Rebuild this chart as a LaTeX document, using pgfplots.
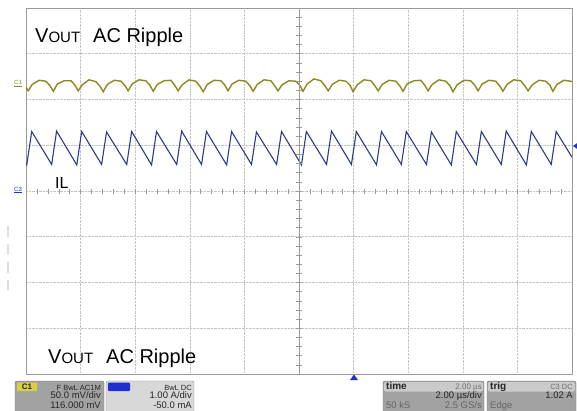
\documentclass[border=0pt]{standalone}
\usepackage{pgfplots}
\pgfplotsset{compat=1.18}
\usepackage{fontspec}
\setmainfont{Liberation Sans}

\definecolor{scopegrid}{HTML}{C4C4C4}
\definecolor{scopeframe}{HTML}{9A9A9A}
\definecolor{vout}{HTML}{8C8A1E}
\definecolor{ilblue}{HTML}{2E3A8C}
\definecolor{markblue}{HTML}{1F2FD0}
\definecolor{boxdark}{HTML}{A2A2A2}
\definecolor{boxlight}{HTML}{D8D8D8}
\definecolor{boxhead}{HTML}{CACACA}
\definecolor{c1yellow}{HTML}{D8D040}

\begin{document}
\begin{tikzpicture}
\useasboundingbox (0pt,0pt) rectangle (577pt,410pt);
\fill[white] (0pt,0pt) rectangle (577pt,410pt);

\begin{axis}[
    at={(26pt,36pt)}, anchor=south west,
    scale only axis, width=546pt, height=366pt,
    xmin=-10, xmax=10, ymin=-4, ymax=4,
    xtick={-8,-6,...,8}, ytick={-3,...,3},
    xticklabels={}, yticklabels={},
    major tick length=0pt,
    grid=major,
    grid style={densely dotted, scopegrid, line width=0.6pt},
    axis line style={scopeframe, line width=0.8pt},
]

% C1: Vout AC ripple (divisions)
\addplot[vout, line width=1.4pt] coordinates {
(-10.00,2.27)
(-9.92,2.19) (-9.77,2.33) (-9.52,2.42) (-9.27,2.40) (-9.12,2.30)
(-9.00,2.18) (-8.85,2.34) (-8.60,2.41) (-8.35,2.41) (-8.20,2.31)
(-8.09,2.19) (-7.94,2.32) (-7.69,2.43) (-7.44,2.39) (-7.29,2.29)
(-7.17,2.17) (-7.02,2.33) (-6.77,2.42) (-6.52,2.40) (-6.37,2.30)
(-6.26,2.19) (-6.11,2.34) (-5.86,2.43) (-5.61,2.41) (-5.46,2.31)
(-5.34,2.18) (-5.19,2.33) (-4.94,2.41) (-4.69,2.42) (-4.54,2.30)
(-4.43,2.19) (-4.28,2.32) (-4.03,2.43) (-3.78,2.40) (-3.63,2.29)
(-3.51,2.17) (-3.36,2.33) (-3.11,2.42) (-2.86,2.41) (-2.71,2.31)
(-2.60,2.19) (-2.45,2.34) (-2.20,2.42) (-1.95,2.40) (-1.80,2.30)
(-1.68,2.18) (-1.53,2.33) (-1.28,2.43) (-1.03,2.41) (-0.88,2.29)
(-0.77,2.19) (-0.62,2.32) (-0.37,2.41) (-0.12,2.40) (0.03,2.31)
(0.15,2.18) (0.30,2.34) (0.55,2.45) (0.80,2.41) (0.95,2.30)
(1.07,2.19) (1.22,2.33) (1.47,2.42) (1.72,2.40) (1.87,2.31)
(1.98,2.17) (2.13,2.32) (2.38,2.43) (2.63,2.41) (2.78,2.30)
(2.90,2.19) (3.05,2.33) (3.30,2.42) (3.55,2.40) (3.70,2.29)
(3.81,2.18) (3.96,2.34) (4.21,2.41) (4.46,2.42) (4.61,2.31)
(4.73,2.19) (4.88,2.33) (5.13,2.43) (5.38,2.40) (5.53,2.30)
(5.64,2.17) (5.79,2.32) (6.04,2.42) (6.29,2.41) (6.44,2.31)
(6.56,2.19) (6.71,2.34) (6.96,2.42) (7.21,2.40) (7.36,2.29)
(7.47,2.18) (7.62,2.33) (7.87,2.43) (8.12,2.41) (8.27,2.30)
(8.39,2.19) (8.54,2.32) (8.79,2.42) (9.04,2.40) (9.19,2.31)
(9.30,2.18) (9.45,2.33) (9.70,2.42) (9.95,2.40) (10.00,2.39)
};

% C3: inductor current IL (divisions)
\addplot[ilblue, line width=1.1pt] coordinates {
(-10.00,0.62) (-9.97,0.58) (-9.79,1.30) (-9.06,0.58) (-8.88,1.31)
(-8.14,0.57) (-7.96,1.30) (-7.23,0.58) (-7.05,1.29) (-6.31,0.58)
(-6.13,1.30) (-5.40,0.57) (-5.22,1.30) (-4.48,0.58) (-4.30,1.31)
(-3.57,0.58) (-3.39,1.30) (-2.65,0.57) (-2.47,1.30) (-1.74,0.58)
(-1.56,1.29) (-0.82,0.58) (-0.64,1.30) (0.09,0.57) (0.27,1.30)
(1.01,0.58) (1.19,1.31) (1.92,0.58) (2.10,1.30) (2.84,0.57)
(3.02,1.30) (3.75,0.58) (3.93,1.30) (4.67,0.58) (4.85,1.29)
(5.58,0.57) (5.76,1.30) (6.50,0.58) (6.68,1.30) (7.41,0.58)
(7.59,1.31) (8.33,0.57) (8.51,1.30) (9.24,0.58) (9.42,1.30)
(10.00,0.74)
};
\end{axis}

\begin{scope}[x=1pt,y=1pt]
% centre cross with small ticks
\draw[scopeframe, line width=0.6pt] (299,36) -- (299,402);
\foreach \k in {-20,...,20} {
  \draw[scopeframe, line width=0.5pt] (296,219+9.15*\k) -- (302,219+9.15*\k);
}
\foreach \k in {-24,...,24} {
  \draw[scopeframe, line width=0.5pt] (299+10.92*\k,216.5) -- (299+10.92*\k,221.5);
}

% faint mark at left
\draw[gray!25, line width=1.6pt, dash pattern=on 11pt off 7pt] (8,184) -- (8,120);

% channel markers
\node[anchor=base west, inner sep=0pt, text=vout, font=\fontsize{6}{6}\selectfont] at (14,325) {\underline{C1}};
\node[anchor=base west, inner sep=0pt, text=markblue, font=\fontsize{6}{6}\selectfont] at (14,219) {\underline{C3}};
\fill[markblue] (573,264) -- (578,267.5) -- (578,260.5) -- cycle;
\fill[markblue] (350,30) -- (358,30) -- (354,35.5) -- cycle;

% annotations
\node[anchor=base west, inner sep=0pt, font=\fontsize{20}{20}\selectfont] at (35,367)
  {V{\fontsize{15}{15}\selectfont OUT}\hspace{13pt}AC Ripple};
\node[anchor=base west, inner sep=0pt, font=\fontsize{16}{16}\selectfont] at (55,222) {IL};
\node[anchor=base west, inner sep=0pt, font=\fontsize{20}{20}\selectfont] at (48,47)
  {V{\fontsize{15}{15}\selectfont OUT}\hspace{13pt}AC Ripple};

% status bar
\begin{scope}[font=\fontsize{9.5}{9.5}\selectfont, text=black!85]
  \filldraw[fill=boxdark, draw=black!55, rounded corners=2pt] (15,-4) rectangle (104,29);
  \fill[c1yellow, rounded corners=1pt] (17,19) rectangle (37,27.5);
  \node[inner sep=0pt, font=\fontsize{8}{8}\selectfont\bfseries] at (27,23.2) {C1};
  \node[anchor=base east, inner sep=0pt, font=\fontsize{7.5}{7.5}\selectfont] at (101,20) {F BwL AC1M};
  \node[anchor=base east, inner sep=0pt] at (101,11.5) {50.0 mV/div};
  \node[anchor=base east, inner sep=0pt] at (101,1.5) {116.000 mV};

  \filldraw[fill=boxlight, draw=black!45, rounded corners=2pt] (106,-4) rectangle (194,29);
  \fill[markblue, rounded corners=1pt] (108,19) rectangle (130,27.5);
  \node[anchor=base east, inner sep=0pt, font=\fontsize{7.5}{7.5}\selectfont] at (192,20) {BwL DC};
  \node[anchor=base east, inner sep=0pt] at (192,11.5) {1.00 A/div};
  \node[anchor=base east, inner sep=0pt] at (192,1.5) {-50.0 mA};

  \filldraw[fill=boxdark, draw=black!55, rounded corners=2pt] (383,-4) rectangle (484,29);
  \fill[boxhead, rounded corners=2pt] (384,18.5) rectangle (483,28);
  \node[anchor=base west, inner sep=0pt, font=\fontsize{10}{10}\selectfont\bfseries] at (386,20.5) {time};
  \node[anchor=base east, inner sep=0pt, text=black!55, font=\fontsize{8}{8}\selectfont] at (482,20.5) {2.00 µs};
  \node[anchor=base east, inner sep=0pt] at (482,11.5) {2.00 µs/div};
  \node[anchor=base west, inner sep=0pt, text=black!60] at (386,1.5) {50 kS};
  \node[anchor=base east, inner sep=0pt, text=black!60] at (482,1.5) {2.5 GS/s};

  \filldraw[fill=boxdark, draw=black!55, rounded corners=2pt] (487,-4) rectangle (576,29);
  \fill[boxhead, rounded corners=2pt] (488,18.5) rectangle (575,28);
  \node[anchor=base west, inner sep=0pt, font=\fontsize{10}{10}\selectfont\bfseries] at (490,20.5) {trig};
  \node[anchor=base east, inner sep=0pt, text=black!55, font=\fontsize{7.5}{7.5}\selectfont] at (573,20.5) {C3 DC};
  \node[anchor=base east, inner sep=0pt] at (573,11.5) {1.02 A};
  \node[anchor=base west, inner sep=0pt, text=black!60] at (490,1.5) {Edge};
\end{scope}
\end{scope}
\end{tikzpicture}
\end{document}
